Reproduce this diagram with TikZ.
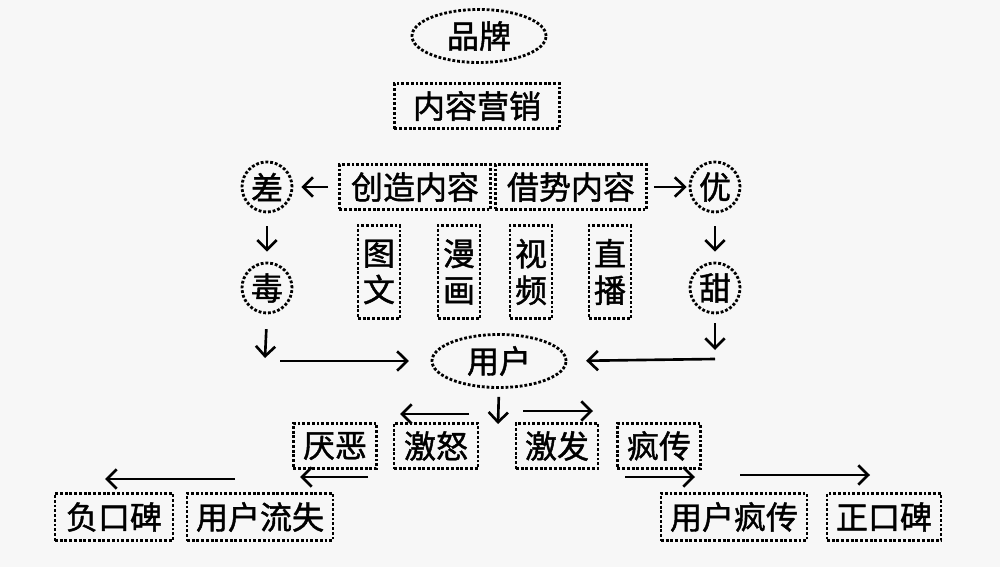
\documentclass[tikz,border=0pt]{standalone}
\usepackage{fontspec}
\newfontfamily\cjk{Noto Sans CJK SC}[FakeBold=1.3]
\usetikzlibrary{arrows.meta,shapes.geometric}
\definecolor{bgpaper}{RGB}{247,247,247}
\tikzset{
  dotline/.style={line width=0.8pt, dash pattern=on 0.8pt off 0.55pt},
  label/.style={font=\cjk\fontsize{9.1}{10.4}\selectfont, text=black},
  box/.style={label, draw, dotline, inner xsep=0.09cm, inner ysep=0pt,
              minimum height=0.45cm},
  tallbox/.style={box, align=center, inner xsep=0.05cm, minimum width=0.42cm, minimum height=0.93cm},
  oval/.style={label, draw, dotline, ellipse, inner sep=0pt,
               minimum width=1.34cm, minimum height=0.53cm},
  ring/.style={label, draw, dotline, circle, inner sep=0pt, minimum size=0.5cm},
  link/.style={-{Straight Barb[length=2.8pt,width=5.5pt]}, line width=0.75pt},
}
\begin{document}
\begin{tikzpicture}[x=0.01cm,y=-0.01cm]
    \fill[bgpaper] (0,0) rectangle (1000,567);
    \useasboundingbox (0,0) rectangle (1000,567);
    % ---- top ----
    \node[oval] (brand) at (479,36) {品牌};
    \node[box, minimum width=1.65cm] (marketing) at (477,106) {内容营销};
    \node[box, minimum width=1.51cm] (create) at (415,187) {创造内容};
    \node[box, minimum width=1.51cm] (borrow) at (571,187) {借势内容};
    % ---- formats ----
    \node[tallbox] (pictext) at (379,272) {图\\文};
    \node[tallbox] (comic)   at (459,272) {漫\\画};
    \node[tallbox] (video)   at (531,272) {视\\频};
    \node[tallbox] (live)    at (610,272) {直\\播};
    % ---- left and right branches ----
    \node[ring] (bad)    at (267,187) {差};
    \node[ring] (poison) at (267,288) {毒};
    \node[ring] (good)   at (715,187) {优};
    \node[ring] (sweet)  at (715,288) {甜};
    \node[oval] (user) at (499,361) {用户};
    % ---- reactions ----
    \node[box, minimum width=0.83cm] (disgust) at (335,446) {厌恶};
    \node[box, minimum width=0.84cm] (anger)   at (436,446) {激怒};
    \node[box, minimum width=0.82cm] (inspire) at (557,446) {激发};
    \node[box, minimum width=0.83cm] (viral)   at (659,446) {疯传};
    % ---- outcomes ----
    \node[box, minimum width=1.18cm, minimum height=0.47cm] (negword)  at (114,517) {负口碑};
    \node[box, minimum width=1.46cm, minimum height=0.47cm] (churn)    at (260,517) {用户流失};
    \node[box, minimum width=1.45cm, minimum height=0.47cm] (userviral) at (734,517) {用户疯传};
    \node[box, minimum width=1.10cm, minimum height=0.47cm] (posword)  at (884,517) {正口碑};
    % ---- loose arrow ends ----
    \coordinate (poisonend) at (265,358);
    \coordinate (leftin)    at (280,361);
    \coordinate (sweetend)  at (715,350);
    \coordinate (rightin)   at (715,359);
    \coordinate (userend)   at (498,424);
    \coordinate (angerA) at (469,414);  \coordinate (angerB) at (400,414);
    \coordinate (inspA)  at (523,411);  \coordinate (inspB)  at (593,411);
    \coordinate (disA)   at (368,477);  \coordinate (disB)   at (300,477);
    \coordinate (virA)   at (625,477);  \coordinate (virB)   at (695,477);
    \coordinate (negA)   at (235,479);  \coordinate (negB)   at (105,479);
    \coordinate (posA)   at (740,475);  \coordinate (posB)   at (870,475);
    % ---- arrows ----
    \draw[link, shorten <=10pt*0.28, shorten >=8pt*0.28] (create.west) -- (bad.east);
    \draw[link, shorten <=6pt*0.28, shorten >=2pt*0.28] (borrow.east) -- (good.west);
    \draw[link, shorten <=13pt*0.28, shorten >=10pt*0.28] (bad.south) -- (poison.north);
    \draw[link, shorten <=13pt*0.28, shorten >=10pt*0.28] (good.south) -- (sweet.north);
    \draw[link, shorten <=15pt*0.28] (poison.south) -- (poisonend);
    \draw[link, shorten >=22pt*0.28] (leftin) -- (user.west);
    \draw[link, shorten <=9pt*0.28] (sweet.south) -- (sweetend);
    \draw[link, shorten >=19pt*0.28] (rightin) -- (user.east);
    \draw[link, shorten <=8pt*0.28] (user.south) -- (userend);
    \draw[link] (angerA) -- (angerB);
    \draw[link] (inspA) -- (inspB);
    \draw[link] (disA) -- (disB);
    \draw[link] (virA) -- (virB);
    \draw[link] (negA) -- (negB);
    \draw[link] (posA) -- (posB);
\end{tikzpicture}
\end{document}
